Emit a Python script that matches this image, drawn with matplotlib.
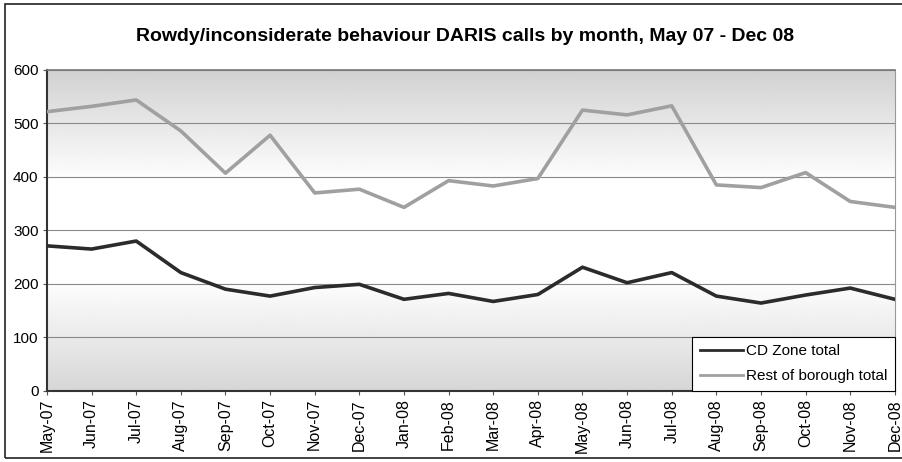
import numpy as np
import matplotlib.pyplot as plt
from matplotlib.patches import Rectangle

plt.rcParams['font.family'] = ['Liberation Sans', 'DejaVu Sans']

months = ['May-07', 'Jun-07', 'Jul-07', 'Aug-07', 'Sep-07', 'Oct-07', 'Nov-07',
          'Dec-07', 'Jan-08', 'Feb-08', 'Mar-08', 'Apr-08', 'May-08', 'Jun-08',
          'Jul-08', 'Aug-08', 'Sep-08', 'Oct-08', 'Nov-08', 'Dec-08']
cd_zone = [271, 265, 280, 221, 190, 177, 193, 199, 171, 182,
           167, 180, 231, 202, 221, 177, 164, 179, 192, 171]
rest_borough = [522, 532, 544, 486, 407, 478, 370, 377, 343, 393,
                383, 397, 525, 516, 533, 385, 380, 408, 354, 343]
yticks = [0, 100, 200, 300, 400, 500, 600]

fig = plt.figure(figsize=(9.03, 4.62), dpi=100)
ax = fig.add_axes([0.052, 0.1543, 0.939, 0.6942])

x = np.arange(len(months))

# background: grey at top and bottom, white band in the middle
lev = np.linspace(0, 600, 300)
shade = np.where(lev > 390, 1 - 0.18 * (lev - 390) / 210,
                 np.where(lev < 210, 1 - 0.16 * (210 - lev) / 210, 1.0))
ax.imshow(np.repeat(shade[:, None], 2, axis=1), cmap='gray', vmin=0, vmax=1,
          origin='lower', extent=[0, len(months) - 1, 0, 600], aspect='auto', zorder=0)

for v in yticks[1:]:
    ax.axhline(v, color='#8a8a8a', lw=0.8, zorder=1)

ax.plot(x, cd_zone, color='#2b2b2b', lw=2.6, label='CD Zone total', zorder=3)
ax.plot(x, rest_borough, color='#a0a0a0', lw=2.6, label='Rest of borough total', zorder=3)

ax.set_xlim(0, len(months) - 1)
ax.set_ylim(0, 600)
ax.set_xticks(x)
ax.set_xticklabels(months, rotation=90, fontsize=11.5)
ax.set_yticks(yticks)
ax.set_yticklabels([str(v) for v in yticks], fontsize=11)
ax.tick_params(axis='both', length=3, color='#555555', pad=3)

for s in ['left', 'bottom']:
    ax.spines[s].set_color('#333333')
    ax.spines[s].set_linewidth(1.5)
ax.spines['top'].set_color('#777777')
ax.spines['top'].set_linewidth(1.2)
ax.spines['right'].set_color('#999999')

leg = ax.legend(loc='lower right', borderaxespad=0, fontsize=11, handlelength=2.8,
                fancybox=False, framealpha=1, edgecolor='black', borderpad=0.5,
                labelspacing=0.7, handletextpad=0.2)
leg.get_frame().set_linewidth(0.8)
for h in leg.get_lines():
    h.set_linewidth(2)

fig.text(0.515, 0.922, 'Rowdy/inconsiderate behaviour DARIS calls by month, May 07 - Dec 08',
         ha='center', va='center', fontsize=14, fontweight='bold')

# outer chart border
fig.add_artist(Rectangle((5 / 903, 4 / 462), 1.02, 1 - 8 / 462, transform=fig.transFigure,
                         fill=False, edgecolor='#222222', lw=1.2))

fig.savefig('out.png', dpi=100)
